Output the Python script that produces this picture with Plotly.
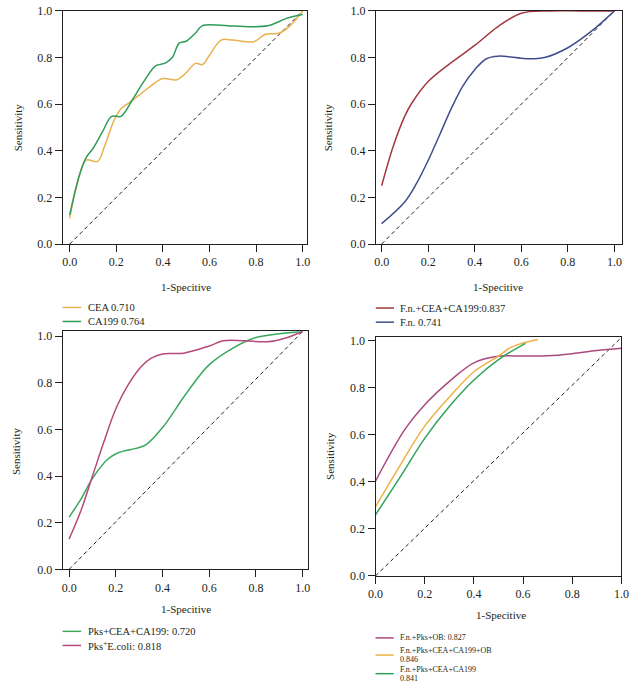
import plotly.graph_objects as go

# ---------------- data ----------------
# Panel A
cea_x = [0.0, 0.03, 0.07, 0.12, 0.15, 0.19, 0.22, 0.26, 0.30, 0.35, 0.40, 0.46, 0.50, 0.54, 0.57, 0.60, 0.65, 0.70, 0.79, 0.84, 0.90, 0.95, 1.0]
cea_y = [0.11, 0.25, 0.36, 0.355, 0.42, 0.53, 0.58, 0.61, 0.64, 0.68, 0.71, 0.705, 0.735, 0.775, 0.77, 0.81, 0.875, 0.875, 0.868, 0.90, 0.905, 0.94, 1.0]
ca199_x = [0.0, 0.04, 0.07, 0.10, 0.14, 0.18, 0.22, 0.27, 0.32, 0.37, 0.41, 0.44, 0.47, 0.50, 0.54, 0.57, 0.70, 0.85, 0.93, 1.0]
ca199_y = [0.125, 0.29, 0.37, 0.41, 0.48, 0.548, 0.548, 0.62, 0.70, 0.765, 0.776, 0.80, 0.862, 0.87, 0.905, 0.937, 0.935, 0.936, 0.968, 0.985]

# Panel B
fn_combo_x = [0.0, 0.05, 0.10, 0.13, 0.20, 0.30, 0.40, 0.50, 0.60, 0.72, 0.86, 1.0]
fn_combo_y = [0.25, 0.42, 0.55, 0.605, 0.697, 0.779, 0.852, 0.933, 0.99, 1.0, 1.0, 1.0]
fn_x = [0.0, 0.10, 0.15, 0.20, 0.25, 0.30, 0.35, 0.40, 0.45, 0.50, 0.60, 0.65, 0.70, 0.80, 0.90, 1.0]
fn_y = [0.088, 0.182, 0.26, 0.359, 0.47, 0.583, 0.68, 0.748, 0.795, 0.806, 0.797, 0.795, 0.80, 0.842, 0.912, 1.0]

# Panel C
pks_combo_x = [0.0, 0.05, 0.10, 0.165, 0.21, 0.295, 0.33, 0.40, 0.50, 0.60, 0.70, 0.80, 0.90, 1.0]
pks_combo_y = [0.224, 0.30, 0.39, 0.472, 0.50, 0.521, 0.535, 0.608, 0.752, 0.878, 0.948, 0.994, 1.01, 1.02]
pks_ecoli_x = [0.0, 0.05, 0.10, 0.15, 0.20, 0.25, 0.31, 0.35, 0.40, 0.49, 0.60, 0.66, 0.75, 0.85, 0.92, 1.0]
pks_ecoli_y = [0.13, 0.25, 0.40, 0.55, 0.689, 0.787, 0.871, 0.905, 0.924, 0.927, 0.958, 0.98, 0.98, 0.976, 0.99, 1.02]

# Panel D
fpo_x = [0.0, 0.12, 0.20, 0.31, 0.40, 0.49, 0.60, 0.70, 0.80, 0.90, 1.0]
fpo_y = [0.403, 0.624, 0.728, 0.836, 0.906, 0.933, 0.935, 0.936, 0.945, 0.958, 0.968]
fpco_x = [0.0, 0.10, 0.20, 0.30, 0.40, 0.50, 0.55, 0.60, 0.66]
fpco_y = [0.294, 0.47, 0.637, 0.76, 0.868, 0.935, 0.972, 0.99, 1.005]
fpc_x = [0.0, 0.10, 0.20, 0.30, 0.40, 0.50, 0.61]
fpc_y = [0.26, 0.42, 0.585, 0.72, 0.833, 0.92, 0.989]

diag_x = [0, 1]
diag_y_ab = [0, 1]
diag_y_c = [0, 1.02]
diag_y_d = [0, 1.014]

tick_vals = [0, 0.2, 0.4, 0.6, 0.8, 1.0]
tick_text = ["0.0", "0.2", "0.4", "0.6", "0.8", "1.0"]

# name (legend lines), color, x, y, panel
series = [
    (["CEA 0.710"], "#E9B24E", cea_x, cea_y, 1),
    (["CA199 0.764"], "#2F9B5B", ca199_x, ca199_y, 1),
    (["F.n.+CEA+CA199:0.837"], "#A3383F", fn_combo_x, fn_combo_y, 2),
    (["F.n. 0.741"], "#414E8E", fn_x, fn_y, 2),
    (["Pks+CEA+CA199: 0.720"], "#3BA85C", pks_combo_x, pks_combo_y, 3),
    (["Pks<sup>+</sup>E.coli: 0.818"], "#B6487B", pks_ecoli_x, pks_ecoli_y, 3),
    (["F.n.+Pks+OB: 0.827"], "#AA4A7E", fpo_x, fpo_y, 4),
    (["F.n.+Pks+CEA+CA199+OB", "0.846"], "#EDB246", fpco_x, fpco_y, 4),
    (["F.n.+Pks+CEA+CA199", "0.841"], "#2FA35A", fpc_x, fpc_y, 4),
]

# ---------------- layout helpers ----------------
W, H = 636, 689
FONT = "Liberation Serif, DejaVu Serif, serif"
TXT = "#231f20"

def fx(p):
    return p / W

def fy(p):
    return 1 - p / H

panels = {
    1: dict(xd=(56, 307), yd=(4, 242), xr=(-0.0305, 1.0197), yr=(0, 1.0)),
    2: dict(xd=(377.3, 629.7), yd=(4, 242), xr=(-0.025, 1.032), yr=(0, 1.0)),
    3: dict(xd=(56, 308), yd=(331, 574), xr=(-0.028, 1.024), yr=(0, 1.021)),
    4: dict(xd=(377, 629.3), yd=(337.3, 580.7), xr=(0, 1.0), yr=(0, 1.014)),
}
diags = {1: diag_y_ab, 2: diag_y_ab, 3: diag_y_c, 4: diag_y_d}

fig = go.Figure()
layout = dict(
    width=W, height=H, margin=dict(l=0, r=0, t=0, b=0),
    paper_bgcolor="white", plot_bgcolor="white",
    showlegend=False, font=dict(family=FONT, color=TXT),
)

for k, p in panels.items():
    xa = "xaxis" if k == 1 else f"xaxis{k}"
    ya = "yaxis" if k == 1 else f"yaxis{k}"
    axcommon = dict(
        showline=True, linecolor="#231f20", linewidth=1, mirror=True,
        ticks="outside", ticklen=7, tickwidth=1, tickcolor="#231f20",
        showgrid=False, zeroline=False, tickvals=tick_vals, ticktext=tick_text,
        tickfont=dict(family=FONT, size=12, color=TXT),
    )
    layout[xa] = dict(axcommon, domain=[fx(p["xd"][0]), fx(p["xd"][1])],
                      range=list(p["xr"]), anchor=f"y{'' if k == 1 else k}")
    layout[ya] = dict(axcommon, domain=[fy(p["yd"][1]), fy(p["yd"][0])],
                      range=list(p["yr"]), anchor=f"x{'' if k == 1 else k}")
    fig.add_trace(go.Scatter(
        x=diag_x, y=diags[k], mode="lines",
        line=dict(color="#231f20", width=1, dash="4px,3px"),
        xaxis=f"x{'' if k == 1 else k}", yaxis=f"y{'' if k == 1 else k}",
        hoverinfo="skip", showlegend=False,
    ))

for names, color, xs, ys, k in series:
    fig.add_trace(go.Scatter(
        x=xs, y=ys, mode="lines", name=" ".join(names),
        line=dict(color=color, width=1.5, shape="spline", smoothing=1.0),
        xaxis=f"x{'' if k == 1 else k}", yaxis=f"y{'' if k == 1 else k}",
        showlegend=False,
    ))

annotations = []
shapes = []

# axis titles
ytitles = [(10, 123), (328, 123), (8.5, 453), (329.5, 458)]
for x, y in ytitles:
    annotations.append(dict(text="Sensitivity", x=fx(x), y=fy(y), xref="paper", yref="paper",
                            textangle=-90, showarrow=False, xanchor="center", yanchor="middle",
                            font=dict(family=FONT, size=11, color=TXT)))
xtitles = [(183, 286), (503, 286), (183, 614), (506, 621)]
for x, y in xtitles:
    annotations.append(dict(text="1-Specitive", x=fx(x), y=fy(y), xref="paper", yref="paper",
                            showarrow=False, xanchor="center", yanchor="middle",
                            font=dict(family=FONT, size=11, color=TXT)))

# legends (line sample + label lines) for each panel
# each entry: (line y, [text line y's])
leg_pos = {
    1: dict(x0=56, x1=75, tx=81, size=10.5, entries=[(306.7, [306.7]), (321, [321])]),
    2: dict(x0=377.3, x1=396, tx=400.7, size=10.5, entries=[(307.3, [307.3]), (321.7, [321.7])]),
    3: dict(x0=56, x1=75, tx=81, size=10.5, entries=[(637.3, [637.3]), (651.7, [651.7])]),
    4: dict(x0=377, x1=395.7, tx=401.3, size=8,
            entries=[(644.0, [644.0]), (661.5, [656.5, 666.2]), (680.5, [675.8, 685.3])]),
}
counters = {1: 0, 2: 0, 3: 0, 4: 0}
for names, color, xs, ys, k in series:
    lp = leg_pos[k]
    ly, tys = lp["entries"][counters[k]]
    counters[k] += 1
    shapes.append(dict(type="line", xref="paper", yref="paper",
                       x0=fx(lp["x0"]), x1=fx(lp["x1"]), y0=fy(ly), y1=fy(ly),
                       line=dict(color=color, width=1.5)))
    for txt, ty in zip(names, tys):
        annotations.append(dict(text=txt, x=fx(lp["tx"]), y=fy(ty), xref="paper", yref="paper",
                                showarrow=False, xanchor="left", yanchor="middle", align="left",
                                borderpad=0,
                                font=dict(family=FONT, size=lp["size"], color=TXT)))

layout["annotations"] = annotations
layout["shapes"] = shapes
fig.update_layout(**layout)
fig.write_html("out.html", config={"displayModeBar": False},
               post_script="document.body.style.margin='0';document.body.style.overflow='hidden';")
